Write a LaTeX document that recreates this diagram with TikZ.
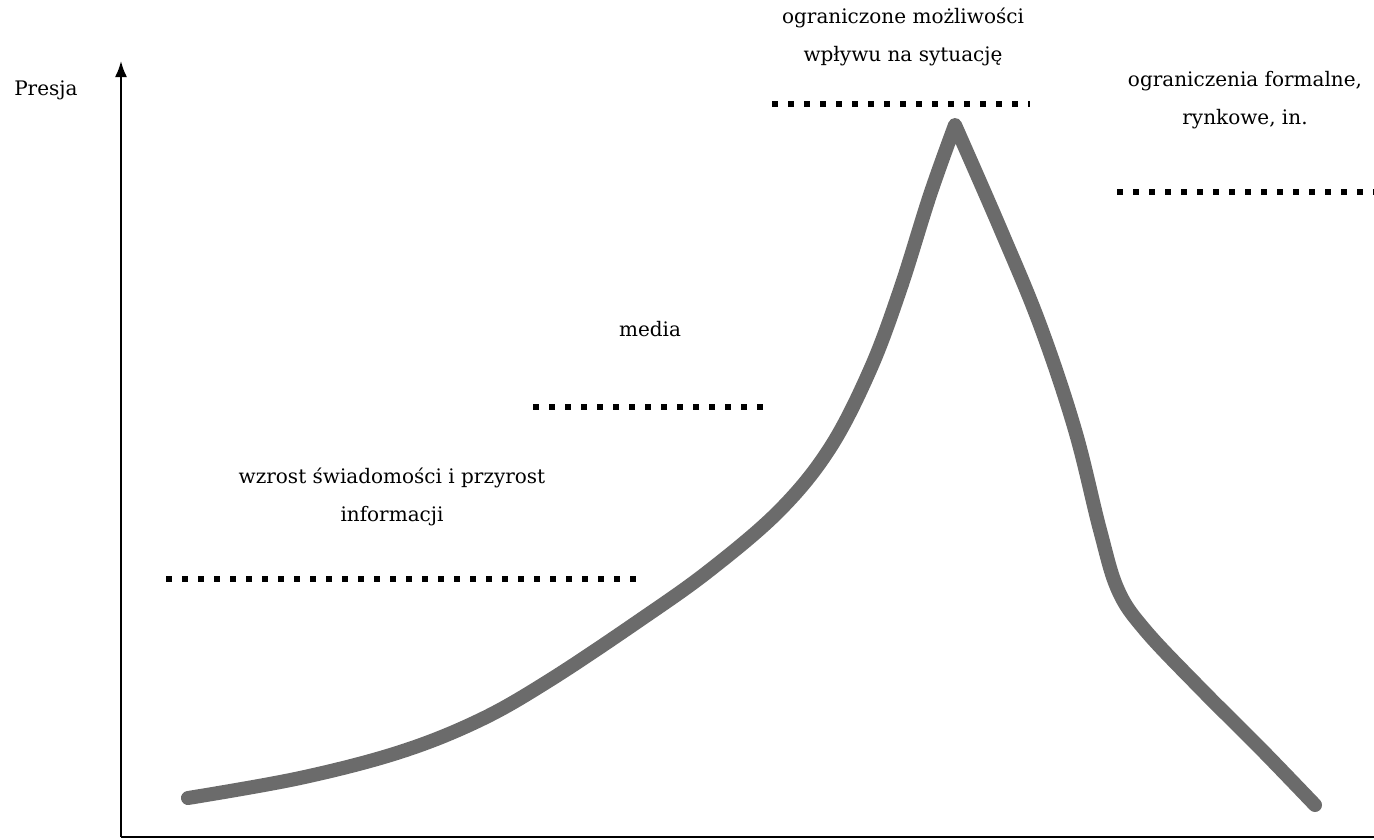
\documentclass[tikz,border=0pt]{standalone}
\usepackage{fontspec}
\setmainfont{DejaVu Serif}
\usetikzlibrary{arrows.meta}
\begin{document}
\begin{tikzpicture}[x=0.75pt,y=-0.75pt,
  lbl/.style={inner sep=0pt,align=center,font=\fontsize{15}{28}\selectfont},
  dotline/.style={line width=4.8pt,dash pattern=on 4.8pt off 7.2pt,line cap=butt},
  axis/.style={line width=1.5pt,black},
  curve/.style={line width=10.5pt,color=black!58,line cap=round,line join=round}]
\useasboundingbox (0,0) rectangle (1374,839);
% axes
\coordinate (origin) at (121,837);
\coordinate (ytop) at (121,61);
\coordinate (xend) at (1374,837);
\draw[axis,-{Latex[length=12pt,width=9pt]}] (origin) -- (ytop);
\draw[axis] (origin) -- (xend);
\node[lbl,anchor=west] (presja) at (14,90) {Presja};
% dotted levels
\coordinate (d1a) at (772,104); \coordinate (d1b) at (1030,104);
\coordinate (d2a) at (1117,192); \coordinate (d2b) at (1374,192);
\coordinate (d3a) at (533,407); \coordinate (d3b) at (768,407);
\coordinate (d4a) at (166,579); \coordinate (d4b) at (640,579);
\draw[dotline] (d1a) -- (d1b);
\draw[dotline] (d2a) -- (d2b);
\draw[dotline] (d3a) -- (d3b);
\draw[dotline] (d4a) -- (d4b);
% labels
\node[lbl] (t1) at (903,37) {ograniczone możliwości\\wpływu na sytuację};
\node[lbl] (t2) at (1245,100) {ograniczenia formalne,\\rynkowe, in.};
\node[lbl] (t3) at (650,329) {media};
\node[lbl] (t4) at (392,497) {wzrost świadomości i przyrost\\informacji};
% curve
\draw[curve] plot[smooth,tension=0.6] coordinates {(188,798) (300,778) (400,752) (480,720) (550,680) (640,620) (710,570) (780,510) (830,448) (870,370) (900,290) (930,195) (955,125)}
  -- plot[smooth,tension=0.6] coordinates {(955,125) (1000,228) (1040,325) (1075,430) (1100,530) (1118,590) (1145,630) (1200,688) (1260,748) (1315,805)};
\end{tikzpicture}
\end{document}
